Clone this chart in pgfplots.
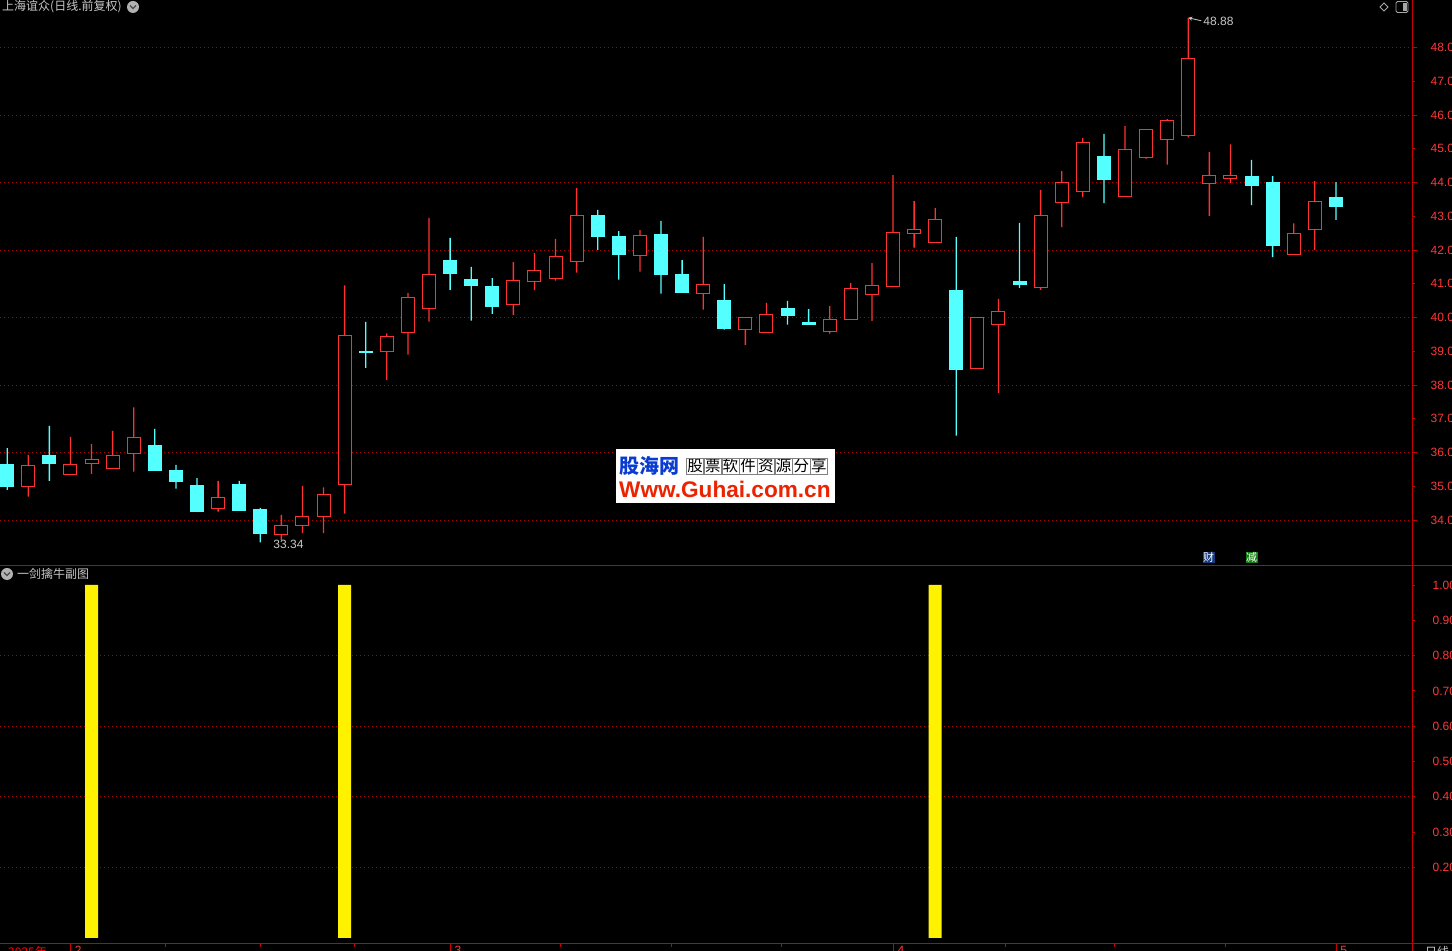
\documentclass[border=0pt]{standalone}
\usepackage{pgfplots}
\pgfplotsset{compat=1.18}
\usepackage{pgfplotstable}
\usepackage{fontspec}
\setmainfont{Liberation Sans}
\newfontfamily\cjk{Noto Sans CJK SC}
\definecolor{kred}{RGB}{255,50,50}
\definecolor{kcyan}{RGB}{84,255,255}
\definecolor{axred}{RGB}{200,0,0}
\definecolor{gridred}{RGB}{175,0,0}
\definecolor{lblred}{RGB}{255,55,55}
\definecolor{txtgray}{RGB}{200,200,200}
\definecolor{caiblue}{RGB}{25,60,125}
\definecolor{jiangreen}{RGB}{20,125,20}
\definecolor{wmblue}{RGB}{10,60,210}
\definecolor{wmred}{RGB}{235,35,0}

% rising (red, hollow) candles: index, open, high, low, close
\pgfplotstableread{
i o h l c
1 34.99 35.93 34.69 35.62
3 35.34 36.46 35.34 35.65
4 35.68 36.25 35.37 35.78
5 35.52 36.64 35.52 35.92
6 35.98 37.34 35.43 36.45
10 34.33 35.16 34.25 34.67
13 33.56 34.15 33.41 33.84
14 33.83 35.01 33.61 34.11
15 34.11 34.97 33.61 34.76
16 35.06 40.95 34.19 39.47
18 38.99 39.53 38.15 39.44
19 39.55 40.73 38.90 40.60
20 40.26 42.95 39.88 41.28
24 40.38 41.64 40.07 41.10
25 41.06 41.91 40.81 41.40
26 41.15 42.33 41.09 41.81
27 41.67 43.84 41.33 43.03
30 41.83 42.59 41.36 42.44
33 40.72 42.39 40.23 40.98
35 39.65 40.01 39.19 40.01
36 39.56 40.43 39.56 40.09
39 39.58 40.34 39.52 39.95
40 39.93 41.02 39.93 40.87
41 40.68 41.61 39.90 40.95
42 40.91 44.22 40.91 42.52
43 42.49 43.45 42.07 42.61
44 42.23 43.24 42.23 42.91
46 38.48 40.01 38.48 40.01
47 39.80 40.55 37.77 40.18
49 40.88 43.78 40.82 43.03
50 43.41 44.34 42.68 44.01
51 43.73 45.32 43.57 45.19
53 43.58 45.67 43.58 44.98
54 44.74 45.58 44.71 45.58
55 45.27 45.88 44.53 45.84
56 45.39 48.88 45.34 47.68
57 43.97 44.90 43.01 44.22
58 44.12 45.13 43.99 44.21
61 41.86 42.79 41.86 42.49
62 42.60 44.04 42.00 43.44
}\uptable

% falling (cyan, filled) candles
\pgfplotstableread{
i o h l c
0 35.63 36.13 34.89 34.99
2 35.90 36.79 35.16 35.67
7 36.22 36.70 35.48 35.48
8 35.48 35.63 34.93 35.13
9 35.01 35.24 34.25 34.25
11 35.04 35.16 34.28 34.28
12 34.30 34.36 33.34 33.59
17 38.99 39.87 38.51 38.96
21 41.70 42.36 40.82 41.29
22 41.14 41.50 39.91 40.96
23 40.93 41.17 40.11 40.34
28 43.01 43.19 42.00 42.39
29 42.39 42.56 41.12 41.86
31 42.47 42.86 40.71 41.26
32 41.26 41.70 40.73 40.73
34 40.49 40.99 39.64 39.67
37 40.28 40.49 39.79 40.05
38 39.84 40.25 39.79 39.79
45 40.81 42.39 36.50 38.45
48 41.08 42.80 40.88 40.97
52 44.76 45.44 43.39 44.10
59 44.19 44.67 43.33 43.90
60 43.99 44.19 41.79 42.12
63 43.57 44.01 42.89 43.30
}\downtable

\pgfplotsset{
  nobb/.style={every axis plot/.append style={overlay},
    tick label style={overlay}},
  pricebase/.style={at={(0pt,386pt)}, anchor=south west, scale only axis, nobb,
    width=1412pt, height=565pt, xmin=-0.341, xmax=66.61, ymin=32.667, ymax=49.407,
    axis line style={draw=none}, xtick=\empty,
    ybar stacked, clip=true},
}
\newcommand{\wb}[1]{{\setlength{\fboxsep}{0.6pt}\setlength{\fboxrule}{0.5pt}\fcolorbox{gray}{white}{#1}}}

\begin{document}
\begin{tikzpicture}[x=1pt,y=1pt]
\path[use as bounding box] (0,0) rectangle (1452,951);
\clip (0,0) rectangle (1452,951);
\fill[black] (0,0) rectangle (1452,951);

% ---------- price panel: rising candles + axis ----------
\begin{axis}[pricebase,
  ytick={34,35,...,48}, ytick pos=right, yticklabel pos=right,
  tick style={axred, line width=0.8pt, overlay},
  tick align=outside, major tick length=3pt,
  /pgf/number format/assume math mode=true,
  yticklabel style={lblred, font=\fontsize{12}{12}\selectfont, anchor=west, xshift=12pt,
    /pgf/number format/fixed, /pgf/number format/fixed zerofill, /pgf/number format/precision=2},
  extra y ticks={34,36,...,48}, extra y tick labels={},
  extra y tick style={ymajorgrids=true, major tick length=5pt},
  major grid style={gridred, line width=0.9pt, dash pattern=on 1pt off 3pt},
]
\addplot[draw=none, fill=none, bar width=1pt] table[x=i, y=l] {\uptable};
\addplot[fill=kred, draw=none, bar width=1.3pt] table[x=i, y expr=\thisrow{o}-\thisrow{l}] {\uptable};
\addplot[fill=black, draw=kred, line width=1pt, bar width=13pt] table[x=i, y expr=\thisrow{c}-\thisrow{o}] {\uptable};
\addplot[fill=kred, draw=none, bar width=1.3pt] table[x=i, y expr=\thisrow{h}-\thisrow{c}] {\uptable};
\draw[overlay, txtgray, line width=0.8pt, ->, >=stealth] (axis cs:12,33.34) ++(12pt,0) -- ++(-12pt,0);
\node[overlay, txtgray, anchor=west, font=\fontsize{12}{12}\selectfont, inner sep=0] at ([xshift=13pt,yshift=-2pt]axis cs:12,33.34) {33.34};
\draw[overlay, txtgray, line width=0.8pt, ->, >=stealth] (axis cs:56,48.88) ++(13pt,-3pt) -- ++(-13pt,3pt);
\node[overlay, txtgray, anchor=west, font=\fontsize{12}{12}\selectfont, inner sep=0] at ([xshift=15pt,yshift=-4pt]axis cs:56,48.88) {48.88};
\end{axis}

% ---------- price panel: falling candles ----------
\begin{axis}[pricebase, ytick=\empty]
\addplot[draw=none, fill=none, bar width=1pt] table[x=i, y=l] {\downtable};
\addplot[fill=kcyan, draw=none, bar width=1.3pt] table[x=i, y expr=\thisrow{c}-\thisrow{l}] {\downtable};
\addplot[fill=kcyan, draw=kcyan, line width=1pt, bar width=13pt] table[x=i, y expr=\thisrow{o}-\thisrow{c}] {\downtable};
\addplot[fill=kcyan, draw=none, bar width=1.3pt] table[x=i, y expr=\thisrow{h}-\thisrow{o}] {\downtable};
\end{axis}

% ---------- indicator panel ----------
\begin{axis}[at={(0pt,7pt)}, anchor=south west, scale only axis, nobb,
  width=1412pt, height=378pt,
  xmin=-0.341, xmax=66.61, ymin=-0.017, ymax=1.0538,
  axis line style={draw=none},
  xtick pos=bottom, ytick pos=right, yticklabel pos=right, xticklabel pos=bottom,
  tick style={axred, line width=0.8pt, overlay}, tick align=outside,
  major tick length=3pt,
  /pgf/number format/assume math mode=true,
  ytick={0.2,0.3,0.4,0.5,0.6,0.7,0.8,0.9,1.0},
  yticklabel style={lblred, font=\fontsize{12}{12}\selectfont, anchor=west, xshift=14pt,
    /pgf/number format/fixed, /pgf/number format/fixed zerofill, /pgf/number format/precision=2},
  extra y ticks={0.2,0.4,0.6,0.8}, extra y tick labels={},
  extra y tick style={ymajorgrids=true},
  major grid style={gridred, line width=0.9pt, dash pattern=on 1pt off 3pt},
  xtick={7.48,11.99,16.44,26.21,31.47,36.69,47.31,52.48,57.74}, xticklabels={},
  extra x ticks={3,21,42,63}, extra x tick labels={2,3,4,5},
  extra x tick style={major tick length=7pt,
    xticklabel style={lblred, font=\fontsize{12}{12}\selectfont, anchor=north west, xshift=1pt, yshift=8pt}},
  ybar, bar width=13pt, bar shift=0pt,
]
\addplot[fill=yellow, draw=none] coordinates {(4,1) (16,1) (44,1)};
\end{axis}

% ---------- frame lines ----------
\draw[axred, line width=1.2pt] (0,385.5) -- (1452,385.5);
\draw[axred, line width=1pt] (0,7) -- (1452,7);
\draw[axred, line width=1pt] (1412,0) -- (1412,951);

% ---------- texts and icons ----------
\node[txtgray, anchor=west, inner sep=0, font=\cjk\fontsize{12}{12}\selectfont] at (2,944) {上海谊众(日线.前复权)};
\fill[gray!60] (133,944) circle (6);
\draw[black!70, line width=1.2pt] (130,945.5) -- (133,942.5) -- (136,945.5);
\node[txtgray, anchor=west, inner sep=0, font=\cjk\fontsize{12}{12}\selectfont] at (17,377) {一剑擒牛副图};
\fill[gray!60] (7,377) circle (6);
\draw[black!70, line width=1.2pt] (4,378.5) -- (7,375.5) -- (10,378.5);
\draw[gray!70, line width=0.8pt] (1384,948) -- (1388,944) -- (1384,940) -- (1380,944) -- cycle;
\draw[gray!70, line width=0.8pt, rounded corners=1.5pt] (1396,938.5) rectangle (1408,949.5);
\fill[gray!70] (1402.5,940) rectangle (1406.5,948);

\node[fill=caiblue, text=white, inner sep=0.5pt, font=\cjk\fontsize{11}{11}\selectfont] at (1208.5,393.5) {财};
\node[fill=jiangreen, text=white, inner sep=0.5pt, font=\cjk\fontsize{11}{11}\selectfont] at (1251.5,393.5) {减};

\node[red, anchor=north west, inner sep=0, font=\cjk\fontsize{12}{12}\selectfont] at (8,5) {2025年};
\node[txtgray, anchor=north west, inner sep=0, font=\cjk\fontsize{12}{12}\selectfont] at (1425,5) {日线};

% watermark
\fill[white] (616,448) rectangle (835,502);
\node[wmblue, anchor=west, inner sep=0, font=\cjk\bfseries\fontsize{20}{20}\selectfont] at (619,485) {股海网};
\node[black, anchor=west, inner sep=0, font=\cjk\fontsize{15.5}{15.5}\selectfont] at (686,485) {\wb{股}\wb{票}\wb{软}\wb{件}\wb{资}\wb{源}\wb{分}\wb{享}};
\node[wmred, anchor=west, inner sep=0, font=\bfseries\fontsize{22.6}{22.6}\selectfont] at (619,462) {Www.Guhai.com.cn};
\end{tikzpicture}
\end{document}
